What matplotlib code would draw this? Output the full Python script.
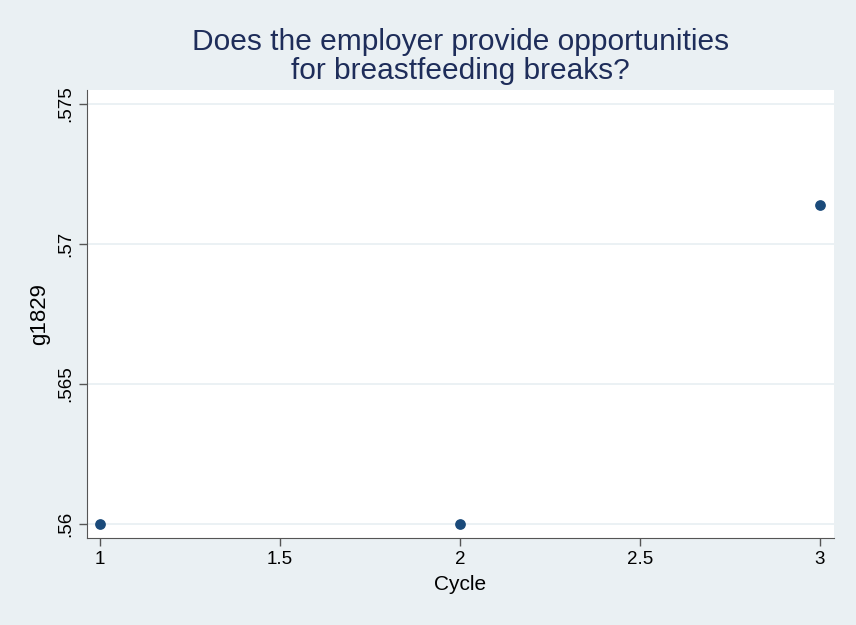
import matplotlib.pyplot as plt

cycle = [1, 2, 3]
g1829 = [0.5600, 0.5600, 0.5714]
xticks = [1, 1.5, 2, 2.5, 3]
xlabels = ["1", "1.5", "2", "2.5", "3"]
yticks = [0.56, 0.565, 0.57, 0.575]
ylabels = [".56", ".565", ".57", ".575"]

bg = "#eaf0f3"
plt.rcParams['font.family'] = ['Liberation Sans', 'DejaVu Sans']

fig = plt.figure(figsize=(8.56, 6.25), dpi=100, facecolor=bg)
ax = fig.add_axes([87 / 856, 1 - 538 / 625, (834 - 87) / 856, (538 - 90) / 625])
ax.set_facecolor("white")

ax.scatter(cycle, g1829, s=45, color="#1a4a7a", zorder=3)

ax.set_xlim(1 - 13 / 360, 3 + 14 / 360)
ax.set_ylim(0.56 - 0.0005, 0.575 + 0.0005)
ax.set_xticks(xticks)
ax.set_xticklabels(xlabels, fontsize=13.5)
ax.set_yticks(yticks)
ax.set_yticklabels(ylabels, fontsize=13.5, rotation=90, va="center")
ax.grid(axis="y", color="#e8eff2", linewidth=1.2)
ax.set_axisbelow(True)

for s in ["top", "right"]:
    ax.spines[s].set_visible(False)
for s in ["left", "bottom"]:
    ax.spines[s].set_color("#555555")
ax.tick_params(length=6, color="#555555", width=1)

ax.set_xlabel("Cycle", fontsize=15, labelpad=5)
ax.set_ylabel("g1829", fontsize=16, labelpad=5)
ax.set_title("Does the employer provide opportunities\nfor breastfeeding breaks?",
             fontsize=21.5, color="#1e2d5a", pad=8, linespacing=1.05)

fig.savefig("out.png", dpi=100, facecolor=bg)
